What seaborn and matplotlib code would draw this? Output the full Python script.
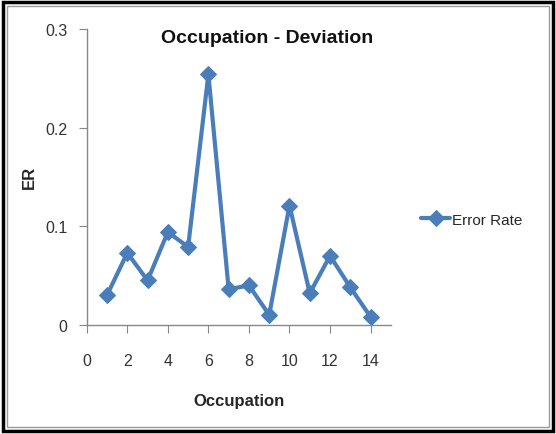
import matplotlib
matplotlib.use("Agg")
import matplotlib.pyplot as plt
from matplotlib.patches import Rectangle
import pandas as pd
import seaborn as sns

# ============================
# DATA
# ============================
occupation = [1, 2, 3, 4, 5, 6, 7, 8, 9, 10, 11, 12, 13, 14]
error_rate = [0.030, 0.073, 0.045, 0.094, 0.079, 0.254, 0.036, 0.040,
              0.010, 0.121, 0.032, 0.070, 0.038, 0.008]
x_ticks = [0, 2, 4, 6, 8, 10, 12, 14]
y_ticks = [0, 0.1, 0.2, 0.3]
y_tick_labels = ["0", "0.1", "0.2", "0.3"]

BLUE = "#4a7ebb"
GREY = "#888888"

sns.set_style("white")
plt.rcParams["font.family"] = ["Liberation Sans", "DejaVu Sans"]

df = pd.DataFrame({"Occupation": occupation, "ER": error_rate})

fig = plt.figure(figsize=(5.56, 4.35), dpi=100)
ax = fig.add_axes([0.156, 0.251, 0.547, 0.680])

sns.lineplot(data=df, x="Occupation", y="ER", ax=ax, color=BLUE,
             linewidth=3, marker="D", markersize=8, markeredgecolor=BLUE,
             label="Error Rate")

ax.set_xlim(0, 15)
ax.set_ylim(0, 0.3)
ax.set_xticks(x_ticks)
ax.set_yticks(y_ticks)
ax.set_yticklabels(y_tick_labels)

for side in ["top", "right"]:
    ax.spines[side].set_visible(False)
for side in ["left", "bottom"]:
    ax.spines[side].set_color(GREY)
    ax.spines[side].set_linewidth(1)

ax.tick_params(axis="x", direction="out", length=6, color=GREY,
               labelsize=11.5, pad=14, labelcolor="#333333")
ax.tick_params(axis="y", direction="out", length=6, color=GREY,
               labelsize=11.5, pad=8, labelcolor="#333333")
ax.tick_params(axis="both", bottom=True, left=True)

ax.set_xlabel("Occupation", fontsize=12, fontweight="bold", labelpad=18)
ax.set_ylabel("ER", fontsize=12, fontweight="bold")
ax.yaxis.set_label_coords(-0.165, 0.5)
fig.text(0.48, 0.912, "Occupation - Deviation", fontsize=14,
         fontweight="bold", ha="center", va="center", color="#111111")

leg = ax.legend(loc="center left", bbox_to_anchor=(1.10, 0.355),
                frameon=False, fontsize=11, handlelength=1.9,
                handletextpad=0.1, borderaxespad=0, borderpad=0)

# outer frame like the source image
fig.patches.append(Rectangle((0.006, 0.008), 0.988, 0.984,
                             transform=fig.transFigure, fill=False,
                             edgecolor="black", linewidth=2.5))
fig.patches.append(Rectangle((0.013, 0.017), 0.974, 0.966,
                             transform=fig.transFigure, fill=False,
                             edgecolor="#999999", linewidth=1))

fig.savefig("out.png", dpi=100)
plt.close(fig)
